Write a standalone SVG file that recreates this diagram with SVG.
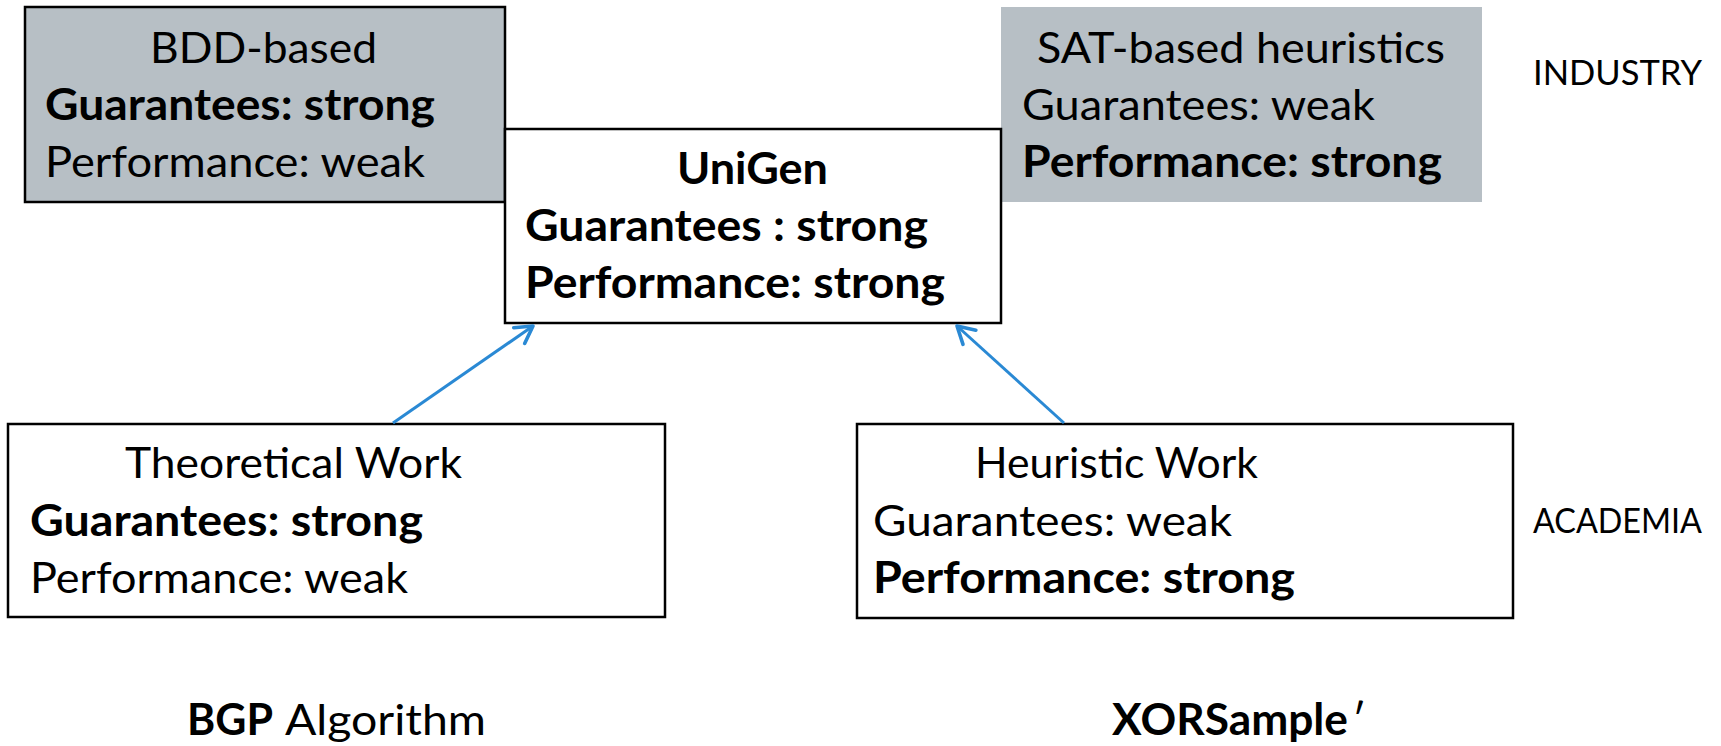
<svg xmlns="http://www.w3.org/2000/svg" width="1721" height="746" viewBox="0 0 1721 746">
  <style>
    text { font-family: Lato, "Open Sans", "Noto Sans", sans-serif; fill: #000; }
    .t { font-size: 43px; }
    .b { font-weight: bold; }
    .side { font-size: 34px; }
    .gray { fill: #b7bfc5; }
    .frame { fill: #fff; stroke: #000; stroke-width: 2.5; }
    .frame-gray { fill: #b7bfc5; stroke: #000; stroke-width: 2.5; }
    .link { stroke: #2a89d4; stroke-width: 3; fill: none; }
  </style>
  <defs>
    <marker id="open-arrow" markerUnits="userSpaceOnUse" markerWidth="24" markerHeight="24" refX="16" refY="10" orient="auto" viewBox="0 0 20 20">
      <path d="M2,2 L16,10 L2,18" fill="none" stroke="#2a89d4" stroke-width="3" stroke-linecap="round" stroke-linejoin="round"/>
    </marker>
  </defs>

  <rect width="1721" height="746" fill="#fff"/>

  <!-- BDD-based approaches -->
  <g id="bdd">
    <rect class="frame-gray" x="25" y="7" width="480" height="195"/>
    <text class="t" x="150" y="63" textLength="227" lengthAdjust="spacingAndGlyphs">BDD-based</text>
    <text class="t b" x="45" y="120" textLength="390" lengthAdjust="spacingAndGlyphs">Guarantees: strong</text>
    <text class="t" x="45" y="177" textLength="380" lengthAdjust="spacingAndGlyphs">Performance: weak</text>
  </g>

  <!-- SAT-based heuristics -->
  <g id="sat">
    <rect class="gray" x="1001" y="7" width="481" height="195"/>
    <text class="t" x="1037" y="63" textLength="408" lengthAdjust="spacingAndGlyphs">SAT-based heuristics</text>
    <text class="t" x="1022" y="120" textLength="353" lengthAdjust="spacingAndGlyphs">Guarantees: weak</text>
    <text class="t b" x="1022" y="177" textLength="420" lengthAdjust="spacingAndGlyphs">Performance: strong</text>
  </g>

  <!-- UniGen -->
  <g id="unigen">
    <rect class="frame" x="505" y="129" width="496" height="194"/>
    <text class="t b" x="677" y="184" textLength="151" lengthAdjust="spacingAndGlyphs">UniGen</text>
    <text class="t b" x="525" y="241" textLength="403" lengthAdjust="spacingAndGlyphs">Guarantees : strong</text>
    <text class="t b" x="525" y="298" textLength="420" lengthAdjust="spacingAndGlyphs">Performance: strong</text>
  </g>

  <!-- Theoretical work -->
  <g id="theoretical">
    <rect class="frame" x="8" y="424" width="657" height="193"/>
    <text class="t" x="125" y="478" textLength="337" lengthAdjust="spacingAndGlyphs">Theoretical Work</text>
    <text class="t b" x="30" y="536" textLength="393" lengthAdjust="spacingAndGlyphs">Guarantees: strong</text>
    <text class="t" x="30" y="593" textLength="378" lengthAdjust="spacingAndGlyphs">Performance: weak</text>
  </g>

  <!-- Heuristic work -->
  <g id="heuristic">
    <rect class="frame" x="857" y="424" width="656" height="194"/>
    <text class="t" x="975" y="478" textLength="283" lengthAdjust="spacingAndGlyphs">Heuristic Work</text>
    <text class="t" x="873" y="536" textLength="359" lengthAdjust="spacingAndGlyphs">Guarantees: weak</text>
    <text class="t b" x="873" y="593" textLength="422" lengthAdjust="spacingAndGlyphs">Performance: strong</text>
  </g>

  <!-- Side labels -->
  <g id="industry">
    <text class="side" x="1533" y="85" textLength="169" lengthAdjust="spacingAndGlyphs">INDUSTRY</text>
  </g>
  <g id="academia">
    <text class="side" x="1533" y="533" textLength="169" lengthAdjust="spacingAndGlyphs">ACADEMIA</text>
  </g>

  <!-- Example algorithms -->
  <g id="bgp">
    <text class="t b" x="187" y="735" textLength="86" lengthAdjust="spacingAndGlyphs">BGP</text>
    <text class="t" x="285" y="735" textLength="201" lengthAdjust="spacingAndGlyphs">Algorithm</text>
  </g>
  <g id="xorsample">
    <text class="t b" x="1112" y="735" textLength="236" lengthAdjust="spacingAndGlyphs">XORSample</text>
    <text class="t" x="1352" y="735">′</text>
  </g>

  <!-- Connectors -->
  <g id="connectors">
    <line class="link" x1="393" y1="423" x2="533" y2="326" marker-end="url(#open-arrow)"/>
    <line class="link" x1="1064" y1="423" x2="957" y2="326" marker-end="url(#open-arrow)"/>
  </g>
</svg>
